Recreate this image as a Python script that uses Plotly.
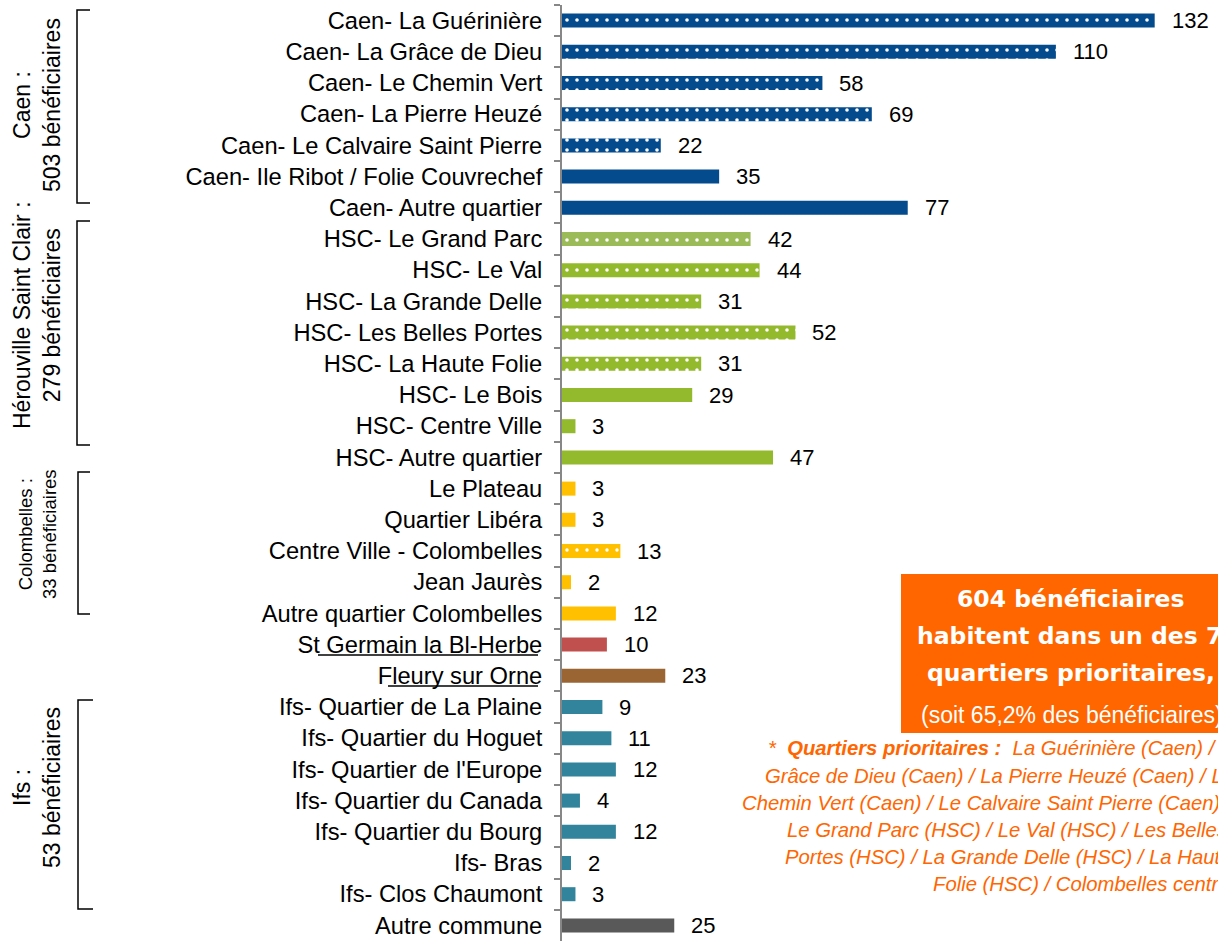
import plotly.graph_objects as go

# ---------------- data ----------------
categories = [
    "Caen- La Guérinière", "Caen- La Grâce de Dieu", "Caen- Le Chemin Vert",
    "Caen- La Pierre Heuzé", "Caen- Le Calvaire Saint Pierre",
    "Caen- Ile Ribot / Folie Couvrechef", "Caen- Autre quartier",
    "HSC- Le Grand Parc", "HSC- Le Val", "HSC- La Grande Delle",
    "HSC- Les Belles Portes", "HSC- La Haute Folie", "HSC- Le Bois",
    "HSC- Centre Ville", "HSC- Autre quartier",
    "Le Plateau", "Quartier Libéra", "Centre Ville - Colombelles",
    "Jean Jaurès", "Autre quartier Colombelles",
    "St Germain la Bl-Herbe", "Fleury sur Orne",
    "Ifs- Quartier de La Plaine", "Ifs- Quartier du Hoguet",
    "Ifs- Quartier de l'Europe", "Ifs- Quartier du Canada",
    "Ifs- Quartier du Bourg", "Ifs- Bras", "Ifs- Clos Chaumont",
    "Autre commune",
]
values = [132, 110, 58, 69, 22, 35, 77,
          42, 44, 31, 52, 31, 29, 3, 47,
          3, 3, 13, 2, 12,
          10, 23,
          9, 11, 12, 4, 12, 2, 3,
          25]
# priority districts (drawn dotted)
priority = [1, 1, 1, 1, 1, 0, 0,
            1, 1, 1, 1, 1, 0, 0, 0,
            0, 0, 1, 0, 0,
            0, 0,
            0, 0, 0, 0, 0, 0, 0,
            0]
groups = ["caen"] * 7 + ["hsc0"] + ["hsc"] * 7 + ["colo"] * 5 + ["stg", "fleury"] + ["ifs"] * 7 + ["autre"]

group_colors = {
    "caen": "#034B8C", "hsc0": "#9BBB59", "hsc": "#93B92D", "colo": "#FFC000",
    "stg": "#C0504D", "fleury": "#9A6533", "ifs": "#31849B", "autre": "#595959",
}

# ---------------- layout geometry (pixels) ----------------
W, H = 1218, 942
L, T = 562, 5
PW, PH = W - L, 936


def px(x):
    return (x - L) / PW


def py(y):
    return (T + PH - y) / PH


FONT = "Liberation Sans, Arial, sans-serif"

fig = go.Figure()
# one trace per (group, dotted) combination so each pattern has a single background colour
combos = []
for g, p in zip(groups, priority):
    if (g, p) not in combos:
        combos.append((g, p))
for g, p in combos:
    idx = [i for i in range(len(categories)) if groups[i] == g and priority[i] == p]
    col = group_colors[g]
    marker = dict(color=col, line=dict(width=0))
    if p:
        marker["pattern"] = dict(shape=".", fgcolor="white", bgcolor=col,
                                 size=10, solidity=0.1, fillmode="replace")
    fig.add_trace(go.Bar(
        x=[values[i] for i in idx], y=[categories[i] for i in idx],
        orientation="h", width=0.45, marker=marker, hoverinfo="skip",
    ))

annotations = []
# value labels
for c, v in zip(categories, values):
    annotations.append(dict(x=v, y=c, xref="x", yref="y", text=str(v),
                            xanchor="left", yanchor="middle", xshift=15,
                            showarrow=False, font=dict(size=22, color="black", family=FONT)))

# group labels (rotated)
for txt, yc, fs in [("Caen :<br>503 bénéficiaires", 105, 23),
                    ("Hérouville Saint Clair :<br>279 bénéficiaires", 315, 23),
                    ("Colombelles :<br>33 bénéficiaires", 534, 18.5),
                    ("Ifs :<br>53 bénéficiaires", 788, 23)]:
    annotations.append(dict(x=px(37), y=py(yc), xref="paper", yref="paper", text=txt,
                            textangle=-90, showarrow=False, xanchor="center", yanchor="middle",
                            font=dict(size=fs, color="black", family=FONT)))

# orange box text
box_lines = [
    ("<b>604 bénéficiaires</b>", 955, 599, "DejaVu Sans", 23.5),
    ("<b>habitent dans un des 7</b>", 915, 636, "DejaVu Sans", 23.5),
    ("<b>quartiers prioritaires,</b>", 925, 673, "DejaVu Sans", 23.5),
    ("(soit 65,2% des bénéficiaires)", 919, 715, FONT, 23),
]
for txt, x0, yc, fam, fs in box_lines:
    annotations.append(dict(x=px(x0), y=py(yc), xref="paper", yref="paper", text=txt,
                            xanchor="left", yanchor="middle", showarrow=False, align="left",
                            font=dict(size=fs, color="white", family=fam)))

# italic note
note_lines = [
    ("<i>*&nbsp; <b>Quartiers prioritaires :</b>&nbsp; La Guérinière (Caen) / La</i>", 766, 748),
    ("<i>Grâce de Dieu (Caen) / La Pierre Heuzé (Caen) / Le</i>", 763, 776),
    ("<i>Chemin Vert (Caen) / Le Calvaire Saint Pierre (Caen) /</i>", 740, 803),
    ("<i>Le Grand Parc (HSC) / Le Val (HSC) / Les Belles</i>", 785, 830),
    ("<i>Portes (HSC) / La Grande Delle (HSC) / La Haute</i>", 783, 857),
    ("<i>Folie (HSC) / Colombelles centre ville</i>", 931, 884),
]
for txt, x0, yc in note_lines:
    annotations.append(dict(x=px(x0), y=py(yc), xref="paper", yref="paper", text=txt,
                            xanchor="left", yanchor="middle", showarrow=False, align="left",
                            font=dict(size=20.3, color="#FF6600", family=FONT)))

shapes = []
# brackets
for xv, y0, y1, xh in [(77, 10, 203, 90), (77, 221, 445, 90), (78, 472, 614, 90), (78, 700, 909, 93)]:
    path = "M {a},{b} L {c},{b} L {c},{d} L {a},{d}".format(a=px(xh), b=py(y0), c=px(xv), d=py(y1))
    shapes.append(dict(type="path", xref="paper", yref="paper", path=path,
                       line=dict(color="black", width=1.5)))
# underlines under two labels
for x0, x1, yv in [(318, 538, 655), (388, 538, 686)]:
    shapes.append(dict(type="line", xref="paper", yref="paper", x0=px(x0), x1=px(x1),
                       y0=py(yv), y1=py(yv), line=dict(color="black", width=1.5)))
# orange box
shapes.append(dict(type="rect", xref="paper", yref="paper", x0=px(901), x1=px(1260),
                   y0=py(733), y1=py(574), fillcolor="#FF6600", line=dict(width=0), layer="below"))

fig.update_layout(
    width=W, height=H,
    margin=dict(l=L, r=0, t=T, b=H - T - PH),
    plot_bgcolor="white", paper_bgcolor="white",
    font=dict(family=FONT, size=23, color="black"),
    showlegend=False,
    barmode="overlay",
    xaxis=dict(visible=False, range=[0, PW / 4.49], fixedrange=True),
    yaxis=dict(
        type="category", categoryorder="array", categoryarray=categories,
        autorange="reversed", showgrid=False, zeroline=False,
        showline=True, linecolor="#878787", linewidth=2,
        ticks="outside", ticklen=6, tickcolor="#878787", tickwidth=1.5,
        tickson="boundaries", ticklabelstandoff=13,
        tickfont=dict(size=23.7, color="black", family=FONT),
    ),
    annotations=annotations,
    shapes=shapes,
)

fig.write_html("out.html", config={"displayModeBar": False},
               post_script="document.body.style.margin='0';")
